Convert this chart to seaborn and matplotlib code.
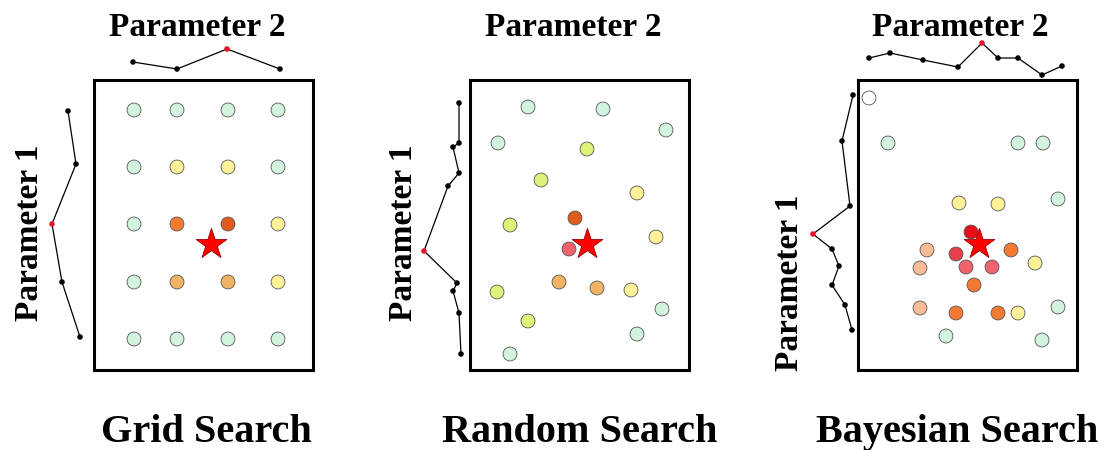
import numpy as np
import pandas as pd
import matplotlib
matplotlib.use("Agg")
import matplotlib.pyplot as plt
import seaborn as sns

# positions, in pixel units of the 1109x450 image
BOXES = {
    "grid": (94, 313, 80, 370),
    "random": (470, 689, 80, 370),
    "bayes": (858, 1077, 80, 370),
}
TITLES = {"grid": "Grid Search", "random": "Random Search", "bayes": "Bayesian Search"}

grid_x = [134, 177, 228, 278] * 5
grid_y = [110] * 4 + [167] * 4 + [224] * 4 + [282] * 4 + [339] * 4
grid_score = ["mint", "mint", "mint", "mint",
              "mint", "yellow", "yellow", "mint",
              "mint", "orange", "darkorange", "yellow",
              "mint", "lightorange", "lightorange", "yellow",
              "mint", "mint", "mint", "mint"]

random_x = [528, 603, 666, 498, 587, 541, 637, 510, 575, 656, 569, 559, 597, 631, 497, 662, 528, 637, 510]
random_y = [107, 109, 130, 143, 149, 180, 193, 225, 218, 237, 249, 282, 288, 290, 292, 309, 321, 334, 354]
random_score = ["mint", "mint", "mint", "mint", "lime", "lime", "yellow", "lime", "darkorange", "yellow",
                "salmon", "lightorange", "lightorange", "yellow", "lime", "mint", "lime", "mint", "mint"]

bayes_x = [869, 888, 1018, 1043, 1058, 959, 998, 971, 927, 956, 1011, 1035,
           920, 966, 992, 974, 920, 956, 998, 1018, 1058, 946, 1042]
bayes_y = [98, 143, 143, 143, 199, 203, 204, 232, 250, 254, 250, 263,
           268, 267, 267, 285, 308, 313, 313, 313, 307, 336, 340]
bayes_score = ["white", "mint", "mint", "mint", "mint", "yellow", "yellow", "red", "peach", "redish", "orange", "yellow",
               "peach", "salmon", "salmon", "orange", "peach", "orange", "orange", "yellow", "mint", "mint", "mint"]

stars = {"grid": (211, 244), "random": (587, 244), "bayes": (979, 244)}

# marginal curves (top: parameter 2, left: parameter 1); best point is red
top_x = {"grid": [133, 177, 227, 280],
         "bayes": [869, 890, 923, 958, 982, 998, 1018, 1042, 1062]}
top_y = {"grid": [62, 69, 49, 69],
         "bayes": [58, 53, 60, 67, 43, 58, 58, 75, 66]}
top_best = {"grid": 2, "bayes": 4}

left_x = {"grid": [68, 76, 52, 62, 80],
          "random": [459, 459, 453, 459, 448, 424, 457, 453, 459, 461],
          "bayes": [853, 842, 850, 813, 832, 839, 832, 845, 852]}
left_y = {"grid": [111, 164, 224, 282, 337],
          "random": [103, 143, 147, 173, 186, 251, 283, 291, 313, 354],
          "bayes": [95, 141, 206, 234, 249, 266, 285, 305, 330]}
left_best = {"grid": 2, "random": 5, "bayes": 3}

points = {"grid": (grid_x, grid_y, grid_score),
          "random": (random_x, random_y, random_score),
          "bayes": (bayes_x, bayes_y, bayes_score)}

palette = {
    "mint": "#D2F4DE", "yellow": "#FFF197", "lime": "#DCF278",
    "lightorange": "#F0B264", "orange": "#F47A32", "darkorange": "#E05A1C",
    "salmon": "#F1626C", "redish": "#E8404A", "red": "#E80E18",
    "peach": "#F8BC95", "white": "#FFFFFF",
}

label_pos = {
    "grid": {"p2": (197, 36), "p1": (30, 233), "title": (206, 442)},
    "random": {"p2": (573, 36), "p1": (403, 233), "title": (580, 442)},
    "bayes": {"p2": (960, 36), "p1": (790, 283), "title": (957, 442)},
}

W, H = 1109, 450
sns.set_style("white")
fig = plt.figure(figsize=(W / 100, H / 100), dpi=100)
serif = ["Liberation Serif", "DejaVu Serif"]

for key, (x0, x1, y0, y1) in BOXES.items():
    ax = fig.add_axes([x0 / W, 1 - y1 / H, (x1 - x0) / W, (y1 - y0) / H])
    ax.set_xlim(x0, x1)
    ax.set_ylim(y1, y0)
    ax.set_xticks([])
    ax.set_yticks([])
    for sp in ax.spines.values():
        sp.set_visible(True)
        sp.set_color("black")
        sp.set_linewidth(2.2)

    px, py, ps = points[key]
    df = pd.DataFrame({"x": px, "y": py, "score": ps})
    sns.scatterplot(data=df, x="x", y="y", hue="score", palette=palette, s=100,
                    edgecolor="#555555", linewidth=0.6, legend=False, ax=ax, zorder=3)
    sx, sy = stars[key]
    ax.scatter([sx], [sy], marker="*", s=540, color="#FF0000", edgecolor="#A00000",
               linewidth=0.6, zorder=4)
    ax.set_xlabel("")
    ax.set_ylabel("")

    if key in top_x:
        tx, ty = top_x[key], top_y[key]
        ax.plot(tx, ty, color="black", lw=0.9, clip_on=False, zorder=5)
        cols = ["#E8102A" if i == top_best[key] else "black" for i in range(len(tx))]
        ax.scatter(tx, ty, s=16, c=cols, clip_on=False, zorder=6, linewidth=0)
    lx, ly = left_x[key], left_y[key]
    ax.plot(lx, ly, color="black", lw=0.9, clip_on=False, zorder=5)
    cols = ["#E8102A" if i == left_best[key] else "black" for i in range(len(lx))]
    ax.scatter(lx, ly, s=16, c=cols, clip_on=False, zorder=6, linewidth=0)

    lp = label_pos[key]
    ax.text(*lp["p2"], "Parameter 2", ha="center", va="baseline", fontsize=24,
            fontweight="bold", family=serif, color="black", clip_on=False)
    ax.text(*lp["p1"], "Parameter 1", ha="center", va="center", rotation=90,
            fontsize=24, fontweight="bold", family=serif, color="black", clip_on=False)
    ax.text(*lp["title"], TITLES[key], ha="center", va="baseline", fontsize=29,
            fontweight="bold", family=serif, color="black", clip_on=False)

fig.savefig("out.png", dpi=100, facecolor="white")
